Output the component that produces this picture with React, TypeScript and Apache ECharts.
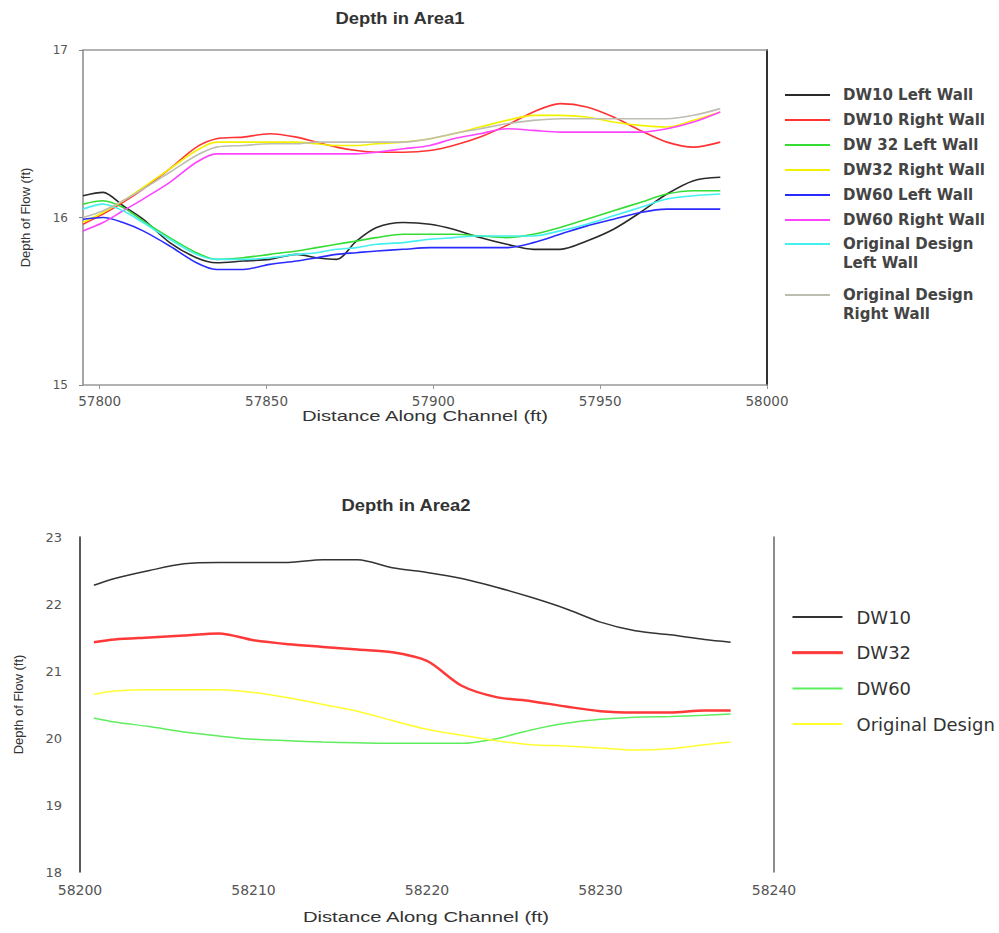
import React, { useEffect, useRef } from "react";
import * as echarts from "echarts";

// ---------- Area 1 data ----------
const area1X = [57795, 57801, 57807, 57813, 57821, 57829, 57835, 57843, 57851, 57859, 57865, 57871, 57877, 57883, 57891, 57899, 57906, 57914, 57922, 57930, 57938, 57946, 57954, 57962, 57970, 57978, 57986];
const dw10Left = [16.13, 16.15, 16.07, 15.99, 15.85, 15.76, 15.73, 15.74, 15.75, 15.78, 15.76, 15.75, 15.86, 15.94, 15.97, 15.96, 15.93, 15.88, 15.84, 15.81, 15.81, 15.86, 15.93, 16.03, 16.14, 16.22, 16.24];
const dw10Right = [15.96, 16.02, 16.09, 16.17, 16.29, 16.42, 16.47, 16.48, 16.5, 16.48, 16.45, 16.42, 16.4, 16.39, 16.39, 16.4, 16.43, 16.48, 16.55, 16.63, 16.68, 16.66, 16.6, 16.52, 16.45, 16.42, 16.45];
const dw32Left = [16.08, 16.1, 16.06, 15.98, 15.88, 15.79, 15.75, 15.76, 15.78, 15.8, 15.82, 15.84, 15.86, 15.88, 15.9, 15.9, 15.9, 15.89, 15.88, 15.9, 15.94, 15.99, 16.04, 16.09, 16.14, 16.16, 16.16];
const dw32Right = [15.97, 16.03, 16.1, 16.18, 16.29, 16.4, 16.45, 16.45, 16.45, 16.45, 16.44, 16.43, 16.43, 16.44, 16.45, 16.47, 16.5, 16.54, 16.58, 16.61, 16.61, 16.6, 16.57, 16.55, 16.54, 16.58, 16.63];
const dw60Left = [15.99, 16.0, 15.97, 15.92, 15.83, 15.73, 15.69, 15.69, 15.72, 15.74, 15.76, 15.78, 15.79, 15.8, 15.81, 15.82, 15.82, 15.82, 15.82, 15.85, 15.9, 15.95, 15.99, 16.03, 16.05, 16.05, 16.05];
const dw60Right = [15.92, 15.97, 16.04, 16.11, 16.21, 16.33, 16.38, 16.38, 16.38, 16.38, 16.38, 16.38, 16.38, 16.39, 16.41, 16.43, 16.47, 16.5, 16.53, 16.52, 16.51, 16.51, 16.51, 16.51, 16.53, 16.57, 16.63];
const origLeft = [16.05, 16.08, 16.04, 15.97, 15.87, 15.78, 15.75, 15.75, 15.76, 15.78, 15.79, 15.81, 15.82, 15.84, 15.85, 15.87, 15.88, 15.89, 15.89, 15.89, 15.92, 15.96, 16.01, 16.06, 16.11, 16.13, 16.14];
const origRight = [16.0, 16.04, 16.1, 16.17, 16.27, 16.37, 16.42, 16.43, 16.44, 16.44, 16.45, 16.45, 16.45, 16.45, 16.45, 16.47, 16.5, 16.53, 16.56, 16.58, 16.59, 16.59, 16.59, 16.59, 16.59, 16.61, 16.65];
const area1Names = ["DW10 Left Wall", "DW10 Right Wall", "DW 32 Left Wall", "DW32 Right Wall", "DW60 Left Wall", "DW60 Right Wall", "Original Design Left Wall", "Original Design Right Wall"];
const area1Colors = ["#2a2a2a", "#ff3333", "#33dd33", "#f2f200", "#2b2bff", "#ff44ff", "#44f0f0", "#bdbdb2"];
const area1Values = [dw10Left, dw10Right, dw32Left, dw32Right, dw60Left, dw60Right, origLeft, origRight];
const area1XTicks = [57800, 57850, 57900, 57950, 58000];

// ---------- Area 2 data ----------
const area2X = [58200.8, 58202, 58204, 58206, 58208, 58210, 58212, 58214, 58216, 58218, 58220, 58222, 58224, 58226, 58228, 58230, 58232, 58234, 58236, 58237.5];
const dw10 = [22.28, 22.38, 22.5, 22.6, 22.62, 22.62, 22.62, 22.66, 22.66, 22.54, 22.47, 22.38, 22.25, 22.1, 21.93, 21.73, 21.6, 21.54, 21.47, 21.43];
const dw32 = [21.43, 21.47, 21.5, 21.53, 21.56, 21.46, 21.4, 21.36, 21.32, 21.28, 21.15, 20.78, 20.61, 20.55, 20.47, 20.4, 20.38, 20.38, 20.41, 20.41];
const dw60 = [20.3, 20.24, 20.17, 20.09, 20.03, 19.98, 19.96, 19.94, 19.93, 19.92, 19.92, 19.92, 19.99, 20.12, 20.22, 20.28, 20.31, 20.32, 20.34, 20.36];
const origDesign = [20.65, 20.7, 20.72, 20.72, 20.72, 20.68, 20.6, 20.5, 20.4, 20.26, 20.13, 20.04, 19.96, 19.9, 19.88, 19.85, 19.82, 19.84, 19.9, 19.94];
const area2Names = ["DW10", "DW32", "DW60", "Original Design"];
const area2Colors = ["#333333", "#ff3838", "#5ded5d", "#ffff30"];
const area2Widths = [1.5, 2.5, 1.5, 1.5];
const area2Values = [dw10, dw32, dw60, origDesign];

const SANS = "'Liberation Sans', Arial, sans-serif";
const WIDE = "'DejaVu Sans', sans-serif";

export default function App() {
  const ref = useRef<HTMLDivElement>(null);
  useEffect(() => {
    document.body.style.margin = "0";
    const chart = echarts.init(ref.current!, undefined, { renderer: "svg" });

    // blank first line so the legend line sits beside the first text line
    const twoLine = (name: string) => "\n" + name.replace("Design ", "Design\n");
    const plain = (v: number) => String(v);

    const series: any[] = [];
    area1Names.forEach((name, i) => {
      series.push({
        name,
        type: "line",
        xAxisIndex: 0,
        yAxisIndex: 0,
        smooth: 0.3,
        symbol: "none",
        lineStyle: { color: area1Colors[i], width: 1.6 },
        itemStyle: { color: area1Colors[i] },
        data: area1X.map((x, k) => [x, area1Values[i][k]]),
      });
    });
    area2Names.forEach((name, i) => {
      series.push({
        name,
        type: "line",
        xAxisIndex: 2,
        yAxisIndex: 2,
        smooth: 0.3,
        symbol: "none",
        lineStyle: { color: area2Colors[i], width: area2Widths[i] },
        itemStyle: { color: area2Colors[i] },
        data: area2X.map((x, k) => [x, area2Values[i][k]]),
      });
    });

    const xLabel = { color: "#555", fontSize: 14, fontFamily: WIDE, formatter: plain };
    const yNameStyle = { color: "#333", fontSize: 13, fontFamily: SANS };

    const legendBase = {
      orient: "vertical",
      selectedMode: false,
      icon: "rect",
      itemWidth: 45,
      itemHeight: 2,
      left: 785,
      padding: 0,
    };
    const legendText = { color: "#444", fontSize: 15, fontWeight: "bold", fontFamily: WIDE, lineHeight: 16, padding: [0, 0, 0, 8] };

    chart.setOption({
      animation: false,
      backgroundColor: "#ffffff",
      textStyle: { fontFamily: SANS },
      graphic: [
        { type: "text", x: 400, y: 18, scaleX: 1.15, style: { text: "Depth in Area1", font: `bold 16px ${SANS}`, fill: "#333", align: "center", verticalAlign: "middle" } },
        { type: "text", x: 406, y: 505, scaleX: 1.15, style: { text: "Depth in Area2", font: `bold 16px ${SANS}`, fill: "#333", align: "center", verticalAlign: "middle" } },
        { type: "text", x: 425, y: 416, scaleX: 1.35, style: { text: "Distance Along Channel (ft)", font: `15px ${SANS}`, fill: "#333", align: "center", verticalAlign: "middle" } },
        { type: "text", x: 426, y: 917, scaleX: 1.35, style: { text: "Distance Along Channel (ft)", font: `15px ${SANS}`, fill: "#333", align: "center", verticalAlign: "middle" } },
      ],
      grid: [
        { left: 83, top: 50, width: 684, height: 335, show: false },
        { left: 80, top: 537, width: 694, height: 335, show: false },
      ],
      legend: [
        { ...legendBase, top: 87, itemGap: 9, data: area1Names.slice(0, 6), textStyle: legendText },
        { ...legendBase, top: 215.5, data: [area1Names[6]], formatter: twoLine, textStyle: { ...legendText, lineHeight: 19 } },
        { ...legendBase, top: 266.5, data: [area1Names[7]], formatter: twoLine, textStyle: { ...legendText, lineHeight: 19 } },
        {
          orient: "vertical",
          selectedMode: false,
          icon: "rect",
          itemWidth: 50,
          itemHeight: 2,
          left: 792,
          top: 607,
          padding: 0,
          itemGap: 15.7,
          data: [
            { name: "DW10" },
            { name: "DW32", itemStyle: { borderColor: "#ff3838", borderWidth: 1 } },
            { name: "DW60" },
            { name: "Original Design" },
          ],
          textStyle: { color: "#333", fontSize: 18, fontFamily: WIDE, lineHeight: 20, padding: [0, 0, 0, 9] },
        },
      ],
      xAxis: [
        {
          type: "value",
          gridIndex: 0,
          min: 57795,
          max: 58000,
          axisLine: { show: true, lineStyle: { color: "#999", width: 1.5 } },
          axisTick: { show: true, length: 4, customValues: area1XTicks, lineStyle: { color: "#999" } },
          axisLabel: { ...xLabel, fontSize: 13.5, margin: 9, customValues: area1XTicks },
          splitLine: { show: false },
        },
        {
          type: "value",
          gridIndex: 0,
          position: "top",
          min: 57795,
          max: 58000,
          axisLine: { show: true, lineStyle: { color: "#999", width: 1.5 } },
          axisTick: { show: false },
          axisLabel: { show: false },
          splitLine: { show: false },
        },
        {
          type: "value",
          gridIndex: 1,
          min: 58200,
          max: 58240,
          interval: 10,
          axisLine: { show: false },
          axisTick: { show: false },
          axisLabel: { ...xLabel, margin: 11 },
          splitLine: { show: false },
        },
      ],
      yAxis: [
        {
          type: "value",
          gridIndex: 0,
          min: 15,
          max: 17,
          interval: 1,
          name: "Depth of Flow (ft)",
          nameLocation: "middle",
          nameGap: 51,
          nameTextStyle: yNameStyle,
          axisLine: { show: true, lineStyle: { color: "#888", width: 1.5 } },
          axisTick: { show: true, length: 4, lineStyle: { color: "#888" } },
          axisLabel: { color: "#555", fontSize: 12, fontFamily: WIDE, margin: 15, formatter: plain },
          splitLine: { show: false },
        },
        {
          type: "value",
          gridIndex: 0,
          position: "right",
          min: 15,
          max: 17,
          axisLine: { show: true, lineStyle: { color: "#333", width: 2 } },
          axisTick: { show: false },
          axisLabel: { show: false },
          splitLine: { show: false },
        },
        {
          type: "value",
          gridIndex: 1,
          min: 18,
          max: 23,
          interval: 1,
          name: "Depth of Flow (ft)",
          nameLocation: "middle",
          nameGap: 55,
          nameTextStyle: yNameStyle,
          axisLine: { show: true, lineStyle: { color: "#222", width: 1.5 } },
          axisTick: { show: false },
          axisLabel: { color: "#555", fontSize: 13, fontFamily: WIDE, margin: 18, formatter: plain },
          splitLine: { show: false },
        },
        {
          type: "value",
          gridIndex: 1,
          position: "right",
          min: 18,
          max: 23,
          axisLine: { show: true, lineStyle: { color: "#666", width: 1.5 } },
          axisTick: { show: false },
          axisLabel: { show: false },
          splitLine: { show: false },
        },
      ],
      series,
    });
    return () => chart.dispose();
  }, []);
  return <div ref={ref} style={{ width: 999, height: 933 }} />;
}
